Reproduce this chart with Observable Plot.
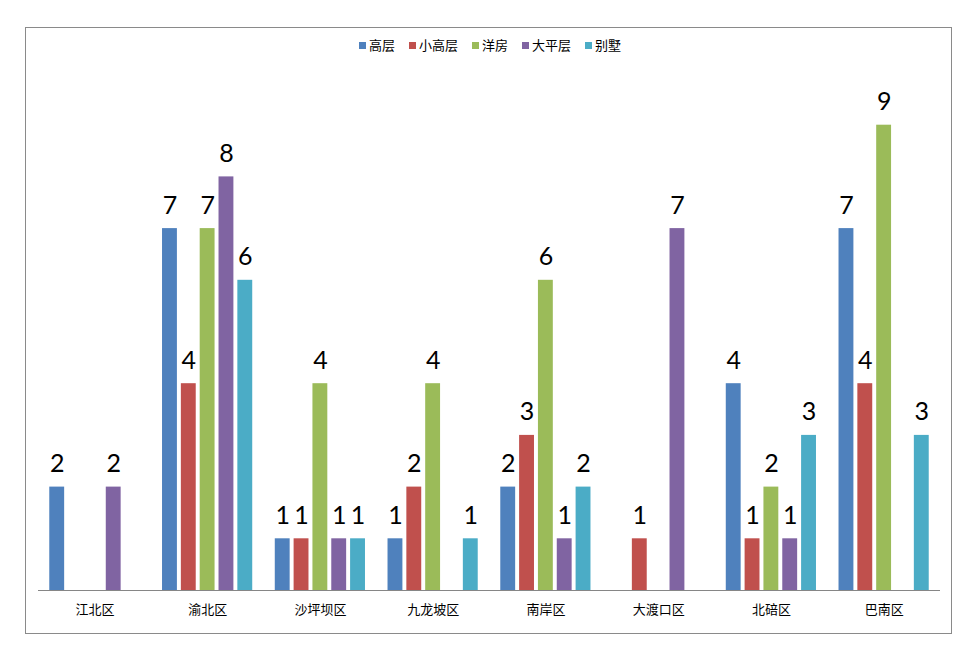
<!DOCTYPE html>
<html><head><meta charset="utf-8">
<script src="https://cdn.jsdelivr.net/npm/d3@7"></script>
<script src="https://cdn.jsdelivr.net/npm/@observablehq/plot@0.6"></script>
<style>
body{margin:0;background:#fff;width:974px;height:659px;position:relative;overflow:hidden}
#frame{position:absolute;left:25px;top:27px;width:927px;height:607px;border:1px solid #8a8a8a;box-sizing:border-box}
#baseline{position:absolute;left:38px;top:590px;width:902px;height:1px;background:#868686}
#legend{position:absolute;left:0;width:974px;top:35px;display:flex;justify-content:center;gap:14px;font-family:"Noto Sans CJK SC",sans-serif;font-size:13px;color:#000;padding-left:6px;box-sizing:border-box}
#legend span.sw{display:inline-block;width:7px;height:7px;margin-right:3px;vertical-align:middle;position:relative;top:-1px}
#chart{position:absolute;left:0;top:0}
</style></head><body>
<div id="frame"></div>
<div id="legend"></div>
<div id="chart"></div>
<div id="baseline"></div>
<script>
const districts = ["江北区","渝北区","沙坪坝区","九龙坡区","南岸区","大渡口区","北碚区","巴南区"];
const seriesNames = ["高层","小高层","洋房","大平层","别墅"];
const colors = ["#4F81BD","#C0504D","#9BBB59","#8064A2","#4BACC6"];
const gaoceng    = [2,7,1,1,2,0,4,7];
const xiaogaoceng= [0,4,1,2,3,1,1,4];
const yangfang   = [0,7,4,4,6,0,2,9];
const dapingceng = [2,8,1,0,1,7,1,0];
const bieshu     = [0,6,1,1,2,0,3,3];
const seriesValues = [gaoceng,xiaogaoceng,yangfang,dapingceng,bieshu];

const data = [];
districts.forEach((d,i)=>seriesNames.forEach((s,j)=>{
  data.push({district:d, series:s, value:seriesValues[j][i]});
}));
const shown = data.filter(d=>d.value>0);

const leg = document.getElementById("legend");
seriesNames.forEach((s,j)=>{
  const el = document.createElement("div");
  el.innerHTML = `<span class="sw" style="background:${colors[j]}"></span>${s}`;
  leg.appendChild(el);
});

const chart = Plot.plot({
  width: 974, height: 659,
  marginLeft: 38, marginRight: 34, marginTop: 73, marginBottom: 69,
  style: {background: "transparent", overflow: "visible"},
  fx: {domain: districts, paddingInner: 0.2, paddingOuter: 0.1, round: false, label: null},
  x: {domain: seriesNames, paddingInner: 0.21, paddingOuter: 0, round: false, axis: null},
  y: {domain: [0,10], axis: null},
  color: {domain: seriesNames, range: colors},
  marks: [
    Plot.axisFx({anchor: "bottom", tickSize: 0, tickPadding: 14, label: null,
      fontFamily: "Noto Sans CJK SC", fontSize: 13, fill: "#000"}),
    Plot.barY(shown, {fx: "district", x: "series", y: "value", fill: "series"}),
    Plot.text(shown, {fx: "district", x: "series", y: "value", text: "value",
      lineAnchor: "bottom", dy: -15, fontSize: 25, fontFamily: "Lato", fill: "#000"})
  ]
});
document.getElementById("chart").appendChild(chart);
</script>
</body></html>
